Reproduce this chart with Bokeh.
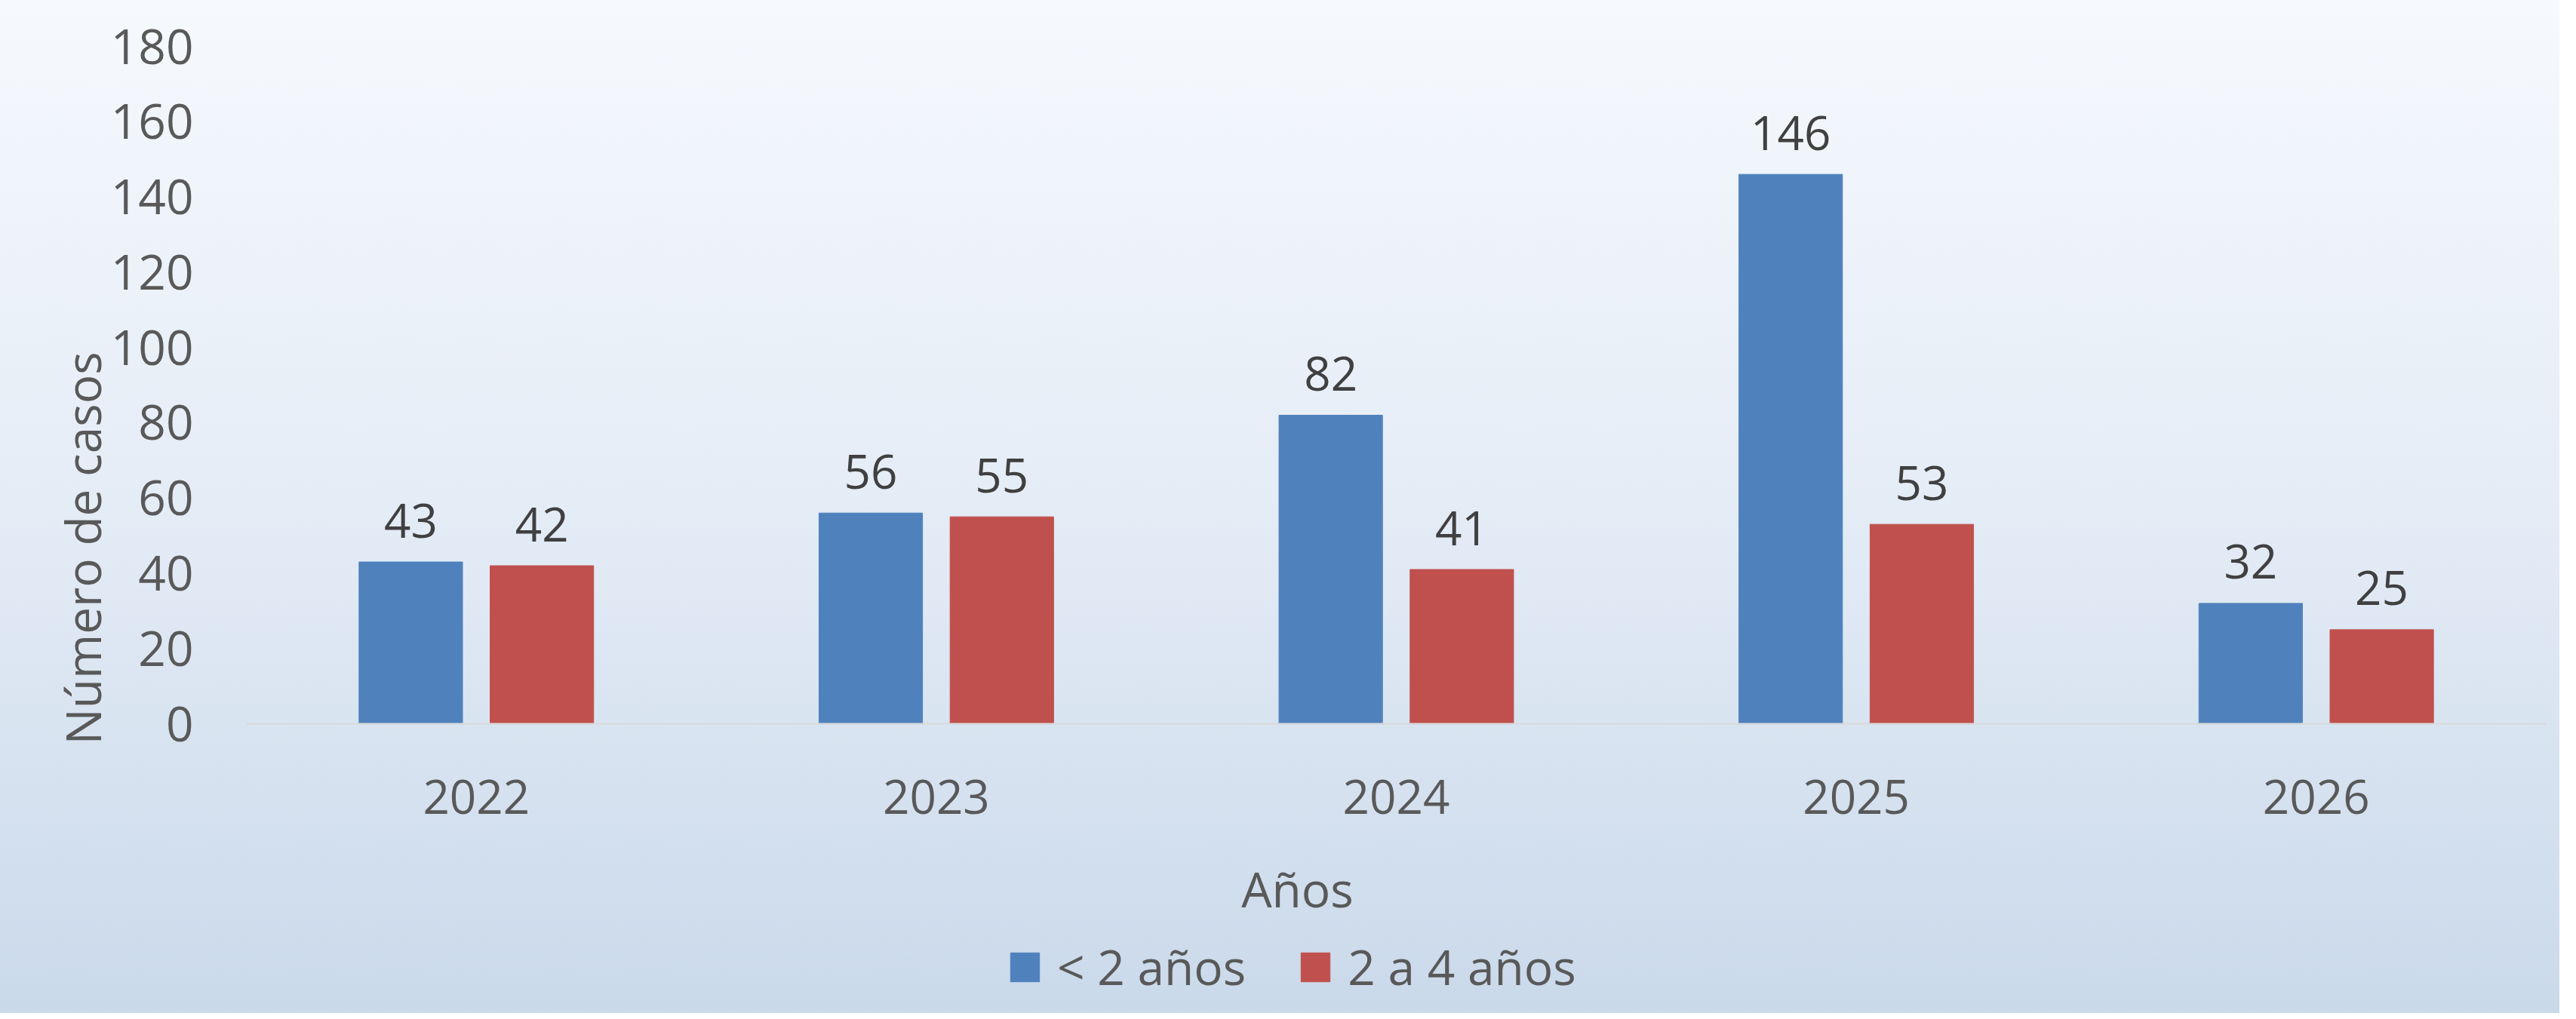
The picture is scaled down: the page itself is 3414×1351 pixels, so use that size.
from bokeh.plotting import figure
from bokeh.models import (ColumnDataSource, FactorRange, Range1d, Title, Legend,
                          LegendItem, FixedTicker, Label)
from bokeh.transform import dodge
from bokeh.core.properties import value
from bokeh.embed import file_html
from bokeh.resources import INLINE

# ---- data ----
years = ["2022", "2023", "2024", "2025", "2026"]
menores_2 = [43, 56, 82, 146, 32]
de_2_a_4 = [42, 55, 41, 53, 25]
series_names = ["< 2 años", "2 a 4 años"]
y_ticks = [0, 20, 40, 60, 80, 100, 120, 140, 160, 180]
y_title = "Número de casos"
x_title = "Años"

BLUE = "#4F81BD"
RED = "#C0504D"
FONT = "Open Sans"
FS = "62px"

src = ColumnDataSource(dict(
    year=years,
    a=menores_2,
    b=de_2_a_4,
    a_txt=[str(v) for v in menores_2],
    b_txt=[str(v) for v in de_2_a_4],
))

W, H = 3392, 1343
FL, FR, FT = 326, 18, 61          # frame borders (px)
ZERO = 950                         # canvas y of value 0
FRAME_BOTTOM = H - 13
px_per_unit = (ZERO - FT) / 180.0
y_low = -(FRAME_BOTTOM - ZERO) / px_per_unit

p = figure(x_range=FactorRange(*years, range_padding=0), y_range=Range1d(y_low, 180),
           width=W, height=H, output_backend="svg", toolbar_location=None,
           min_border_left=FL, min_border_right=FR, min_border_top=FT,
           min_border_bottom=0)

p.background_fill_alpha = 0
p.border_fill_alpha = 0
p.outline_line_color = None
p.styles = {"background": "linear-gradient(180deg, #f6f9fd 0%, #e4ecf6 50%, #cad9ea 100%)"}
p.xgrid.visible = False
p.ygrid.visible = False

rb = p.vbar(x=dodge("year", -0.1425, range=p.x_range), top="a", bottom=0, width=0.225,
            source=src, fill_color=BLUE, line_color=BLUE)
rr = p.vbar(x=dodge("year", 0.1425, range=p.x_range), top="b", bottom=0, width=0.225,
            source=src, fill_color=RED, line_color=RED)

for col, off in (("a_txt", -0.1425), ("b_txt", 0.1425)):
    p.text(x=dodge("year", off, range=p.x_range), y=col[0], text=col, source=src,
           text_align="center", text_baseline="alphabetic", y_offset=-55,
           text_font=value(FONT), text_font_size=FS, text_color="#404040")

# y axis
ya = p.yaxis[0]
ya.ticker = FixedTicker(ticks=y_ticks)
ya.axis_line_color = None
ya.major_tick_line_color = None
ya.minor_tick_line_color = None
ya.major_label_text_font = FONT
ya.major_label_text_font_size = "64px"
ya.major_label_text_color = "#595959"
ya.major_label_standoff = 64

# x axis drawn at value 0 inside the frame
xa = p.xaxis[0]
xa.fixed_location = 0
xa.axis_line_color = "#d9d9d9"
xa.axis_line_width = 2
xa.major_tick_line_color = None
xa.minor_tick_line_color = None
xa.major_label_text_font = FONT
xa.major_label_text_font_size = FS
xa.major_label_text_color = "#595959"
xa.major_label_standoff = 68

# y axis title
p.add_layout(Title(text=y_title, align="left", offset=356, text_font=FONT,
                   text_font_size="64px", text_font_style="normal",
                   text_color="#595959", standoff=-18), "left")

# x axis title
p.add_layout(Label(x=1393, y=165, x_units="screen", y_units="screen", text=x_title,
                   text_align="center", text_baseline="middle", text_font=FONT,
                   text_font_size="64px", text_color="#595959"))

legend = Legend(items=[LegendItem(label=series_names[0], renderers=[rb]),
                       LegendItem(label=series_names[1], renderers=[rr])],
                orientation="horizontal", location=(1008, 18),
                border_line_color=None, background_fill_alpha=0,
                glyph_width=48, glyph_height=48, label_standoff=19, spacing=68,
                padding=0, margin=0, label_text_font=FONT,
                label_text_font_size="64px", label_text_color="#595959")
p.add_layout(legend, "center")

open("out.html", "w").write(file_html(p, INLINE))
